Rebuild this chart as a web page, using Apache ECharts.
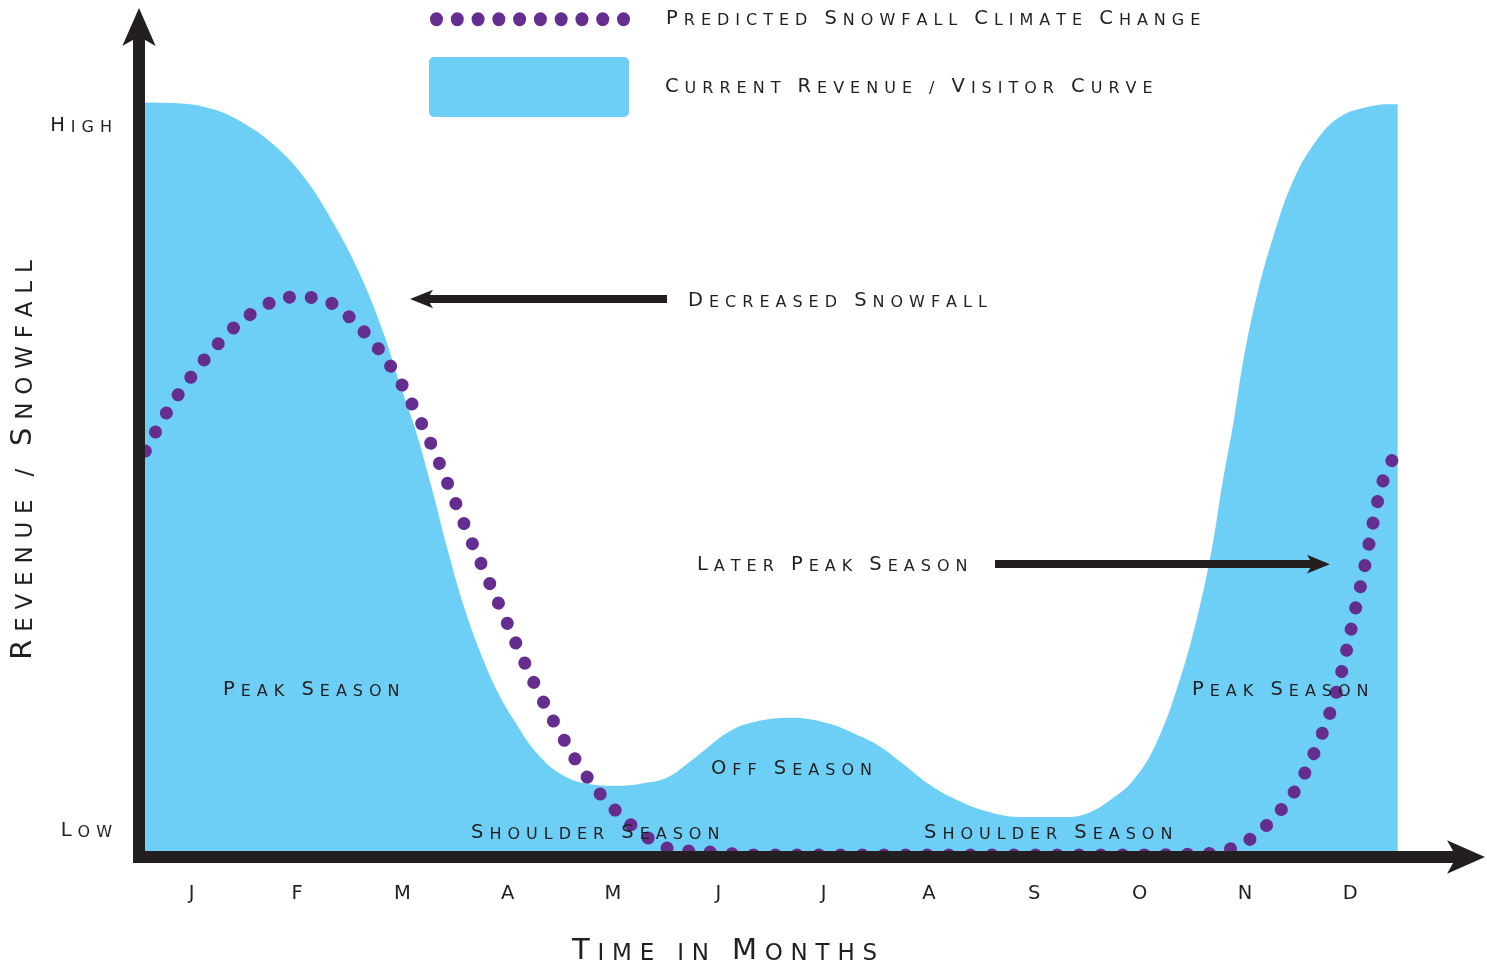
<!DOCTYPE html>
<html>
<head>
<meta charset="utf-8">
<script src="https://cdn.jsdelivr.net/npm/echarts@6/dist/echarts.min.js"></script>
<style>
  html, body { margin: 0; padding: 0; background: #fff; }
  #chart { width: 1487px; height: 965px; }
</style>
</head>
<body>
<div id="chart"></div>
<script>
// month letters on the time axis, centred in each month
const months = ['J', 'F', 'M', 'A', 'M', 'J', 'J', 'A', 'S', 'O', 'N', 'D'];
const monthPos = [0.5, 1.5, 2.5, 3.5, 4.5, 5.5, 6.5, 7.5, 8.5, 9.5, 10.5, 11.5];

// level labels on the vertical axis
const levelLabels = ['Low', 'High'];
const levelPos = [3.25, 91.4];

// current revenue / visitor curve  [month, level]
const revenue = [
  [0, 94.3], [0.39, 94.2], [0.72, 93.4], [1.01, 91.6], [1.29, 88.9], [1.58, 84.75],
  [1.86, 78.9], [2.1, 72.75], [2.31, 65.9], [2.48, 59], [2.62, 53.6], [2.78, 46.1],
  [2.93, 38.4], [3.09, 31.1], [3.25, 25.25], [3.41, 20.5], [3.57, 16.9], [3.76, 13.25],
  [4.0, 10.4], [4.28, 9.1], [4.57, 8.9], [4.8, 9.25], [5.01, 9.9], [5.23, 11.9],
  [5.39, 13.6], [5.58, 15.5], [5.8, 16.75], [6.18, 17.4], [6.53, 16.75], [6.82, 15.25],
  [7.04, 13.75], [7.29, 11.25], [7.51, 9], [7.77, 7.1], [8.08, 5.6], [8.39, 5],
  [8.81, 5], [9.03, 5.6], [9.25, 7.4], [9.44, 9.6], [9.65, 14], [9.88, 22.1],
  [10.07, 31.25], [10.2, 39.6], [10.28, 46.25], [10.39, 54.25], [10.48, 61.75], [10.61, 70],
  [10.77, 77.6], [10.96, 84.6], [11.18, 89.6], [11.4, 92.5], [11.66, 93.75], [11.88, 94.1],
  [11.95, 94.1]
];

// predicted snowfall with climate change  [month, level]
const snowfall = [
  [0.06, 50.75], [0.26, 55.5], [0.5, 60.1], [0.77, 64.4], [1.08, 68], [1.47, 70],
  [1.68, 69.9], [1.88, 68.75], [2.18, 65], [2.43, 60.5], [2.63, 55.6], [2.81, 50.5],
  [2.97, 45.4], [3.13, 40.25], [3.3, 35.1], [3.47, 30], [3.64, 24.9], [3.82, 19.9],
  [4.02, 15], [4.24, 10.25], [4.51, 6], [4.83, 2.4], [5.02, 1.1], [5.44, 0.6],
  [5.9, 0.25], [9.12, 0.25], [10.09, 0.4], [10.29, 0.75], [10.49, 1.75], [10.66, 3.4],
  [10.81, 5.4], [10.94, 7.6], [11.05, 10], [11.22, 15], [11.36, 20.25], [11.46, 25.6],
  [11.55, 31.1], [11.64, 36.5], [11.72, 42], [11.82, 47.4], [11.91, 49.9]
];

// annotation arrows  [from, to] in [month, level]
const arrowDecreased = [[5.013, 69.75], [2.668, 69.75]];
const arrowLater = [[8.127, 36.6], [11.212, 36.6]];

const seriesNames = ['Current Revenue / Visitor Curve', 'Predicted Snowfall Climate Change'];
const notes = ['Decreased Snowfall', 'Later Peak Season', 'Peak Season', 'Off Season', 'Shoulder Season'];
const axisTitles = ['Time in Months', 'Revenue / Snowfall'];

const INK = '#231f20';
const BLUE = '#6dcff6';
const PURPLE = '#662d91';
const FONT = 'DejaVu Sans';

// small caps done with rich text: capitals big, the rest upper case but smaller
function capsStyles(p, big, small, gap) {
  const base = { fontFamily: FONT, color: INK, fill: INK, verticalAlign: 'bottom', lineHeight: big };
  const s = {};
  s[p + 'B'] = Object.assign({}, base, { fontSize: big, padding: [0, gap, 0, 0] });
  s[p + 'S'] = Object.assign({}, base, { fontSize: small, padding: [0, gap, 0, 0] });
  s[p + 'b'] = Object.assign({}, base, { fontSize: big });
  s[p + 's'] = Object.assign({}, base, { fontSize: small });
  return s;
}

function smallCaps(text, p) {
  const chars = text.split('');
  return chars.map((ch, i) => {
    const upper = ch !== ch.toLowerCase();
    const last = i === chars.length - 1;
    const key = p + (upper ? (last ? 'b' : 'B') : (last ? 's' : 'S'));
    return '{' + key + '|' + ch.toUpperCase() + '}';
  }).join('');
}

const RICH = Object.assign({ gap: { width: 31 } },
  capsStyles('a', 19.5, 16, 6.0),
  capsStyles('t', 29, 23, 7.8));

// legend glyph: a row of ten dots
let dotsPath = 'path://';
for (let i = 0; i < 10; i++) {
  const cx = 6.5 + i * 20.78;
  dotsPath += 'M' + (cx - 6.5) + ',7a6.5,7 0 1,0 13,0a6.5,7 0 1,0 -13,0z';
}
const boxPath = 'path://M5,0H195A5,5 0 0 1 200,5V55A5,5 0 0 1 195,60H5A5,5 0 0 1 0,55V5A5,5 0 0 1 5,0Z';

const chart = echarts.init(document.getElementById('chart'), null, { renderer: 'canvas' });

function noteText(x, y, text, extra) {
  return Object.assign({
    type: 'text', x: x, y: y, z: 100, silent: true,
    style: { text: smallCaps(text, 'a'), rich: RICH, align: 'left', verticalAlign: 'middle' }
  }, extra || {});
}

const axisLine = {
  show: true,
  onZero: true,
  symbol: ['none', 'arrow'],
  symbolSize: [25, 38],
  symbolOffset: [0, 16],
  lineStyle: { color: INK, width: 12, cap: 'butt' }
};

const option = {
  animation: false,
  backgroundColor: '#fff',
  grid: { left: 133, right: 18, top: 24, bottom: 102, outerBoundsMode: 'none' },
  legend: [
    {
      data: [{ name: seriesNames[1], icon: dotsPath }],
      left: 430, top: 9, padding: 0,
      itemWidth: 200, itemHeight: 14,
      selectedMode: false,
      itemStyle: { borderWidth: 0 },
      formatter: name => '{gap| }' + smallCaps(name, 'a'),
      textStyle: { rich: RICH }
    },
    {
      data: [{ name: seriesNames[0], icon: boxPath }],
      left: 429, top: 57, padding: 0,
      itemWidth: 200, itemHeight: 60,
      selectedMode: false,
      itemStyle: { borderWidth: 0 },
      formatter: name => '{gap| }' + smallCaps(name, 'a'),
      textStyle: { rich: RICH }
    }
  ],
  xAxis: {
    type: 'value',
    min: -0.057,
    max: 12.627,
    z: 10,
    axisLine: axisLine,
    axisTick: { show: false },
    splitLine: { show: false },
    axisLabel: {
      customValues: monthPos,
      formatter: v => months[Math.floor(v)],
      fontFamily: FONT,
      fontSize: 19.5,
      color: INK,
      margin: 31,
      verticalAlign: 'middle'
    }
  },
  yAxis: {
    type: 'value',
    min: -0.75,
    max: 104.125,
    z: 10,
    axisLine: axisLine,
    axisTick: { show: false },
    splitLine: { show: false },
    axisLabel: {
      customValues: levelPos,
      formatter: v => {
        const i = levelPos.findIndex(p => Math.abs(p - v) < 1e-6);
        return i < 0 ? '' : smallCaps(levelLabels[i], 'a');
      },
      rich: RICH,
      margin: 21
    }
  },
  series: [
    {
      name: seriesNames[0],
      type: 'line',
      data: revenue,
      smooth: 0.4,
      symbol: 'none',
      z: 2,
      itemStyle: { color: BLUE },
      lineStyle: { width: 0, opacity: 0 },
      areaStyle: { color: BLUE, opacity: 1 },
      markLine: {
        silent: true,
        symbol: ['none', 'arrow'],
        symbolSize: [14, 23],
        symbolOffset: [0, [0, -10]],
        label: { show: false },
        lineStyle: { color: INK, width: 8, type: 'solid', cap: 'butt' },
        data: [
          [{ coord: arrowDecreased[0] }, { coord: arrowDecreased[1] }],
          [{ coord: arrowLater[0] }, { coord: arrowLater[1] }]
        ]
      }
    },
    {
      name: seriesNames[1],
      type: 'line',
      data: snowfall,
      smooth: 0.4,
      symbol: 'none',
      z: 3,
      itemStyle: { color: PURPLE },
      lineStyle: { color: PURPLE, width: 13, type: [0.1, 21.6], cap: 'round' }
    }
  ],
  graphic: [
    noteText(688, 301, notes[0]),
    noteText(697, 565, notes[1]),
    noteText(223, 690, notes[2]),
    noteText(1192, 690, notes[2]),
    noteText(711, 769, notes[3]),
    noteText(471, 833, notes[4]),
    noteText(924, 833, notes[4]),
    {
      type: 'text', x: 572, y: 951, z: 100, silent: true,
      style: { text: smallCaps(axisTitles[0], 't'), rich: RICH, align: 'left', verticalAlign: 'middle' }
    },
    {
      type: 'text', x: 23, y: 460, z: 100, silent: true, rotation: Math.PI / 2,
      style: { text: smallCaps(axisTitles[1], 't'), rich: RICH, align: 'center', verticalAlign: 'middle' }
    }
  ]
};

chart.setOption(option);
</script>
</body>
</html>
